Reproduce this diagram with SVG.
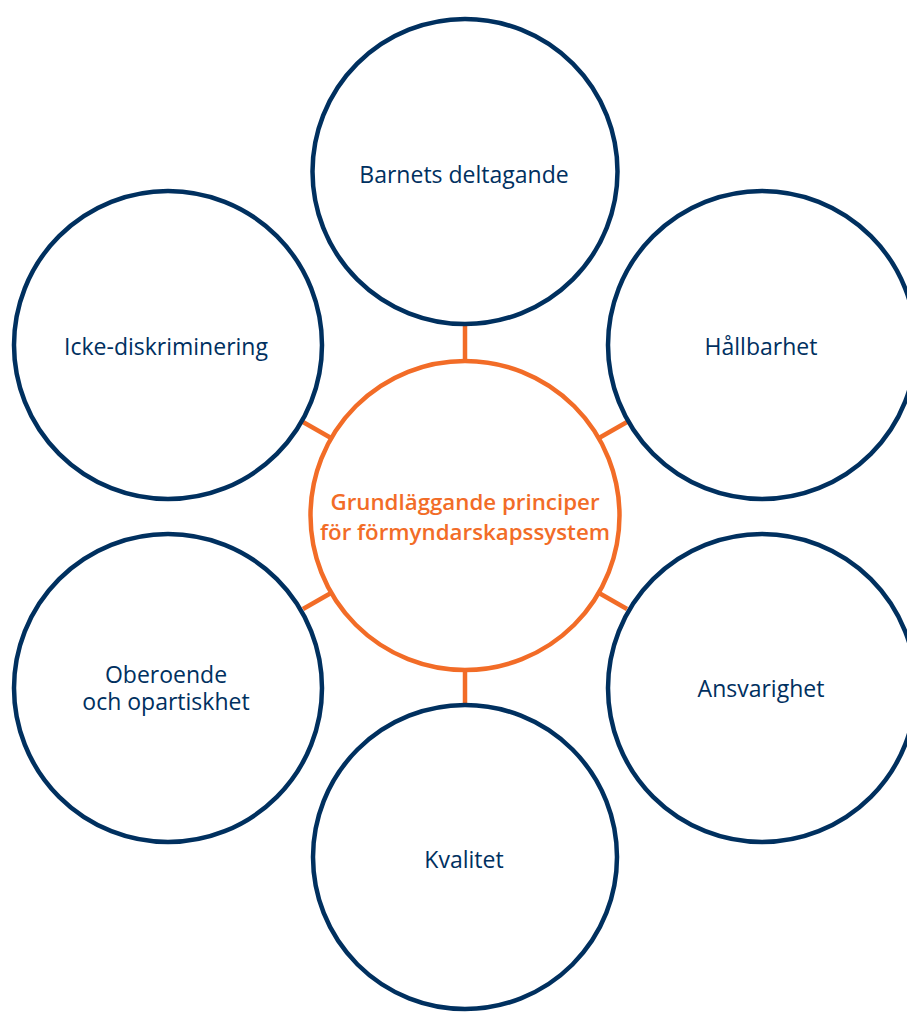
<svg xmlns="http://www.w3.org/2000/svg" width="907" height="1012" viewBox="0 0 907 1012">
<style>
.node circle{fill:#fff;stroke:#00305f;stroke-width:4.5}
.node text{font-family:"Open Sans","Noto Sans",sans-serif;font-size:23px;fill:#00305f;text-anchor:middle}
#center circle{fill:#fff;stroke:#f26c27;stroke-width:4.5}
#center text{font-family:"Open Sans","Noto Sans",sans-serif;font-size:22.3px;font-weight:600;fill:#f26c27;text-anchor:middle}
.conn line{stroke:#f26c27;stroke-width:4.5}
</style>
<rect width="907" height="1012" fill="#fff"/>
<g class="conn" id="connectors">
<line x1="465" y1="324" x2="465" y2="362"/>
<line x1="465" y1="669" x2="465" y2="706"/>
<line x1="303" y1="422" x2="331" y2="438"/>
<line x1="627" y1="422" x2="599" y2="438"/>
<line x1="303" y1="609" x2="331" y2="593"/>
<line x1="627" y1="609" x2="599" y2="593"/>
</g>
<g class="node" id="n-barnets"><circle cx="465" cy="171.5" r="152.5"/><text x="464" y="183">Barnets deltagande</text></g>
<g class="node" id="n-icke"><circle cx="168" cy="345" r="154"/><text x="166" y="355">Icke-diskriminering</text></g>
<g class="node" id="n-hallbarhet"><circle cx="762" cy="345" r="154"/><text x="761" y="355">Hållbarhet</text></g>
<g class="node" id="n-oberoende"><circle cx="168" cy="688" r="154"/><text x="166" y="683">Oberoende</text><text x="166" y="710">och opartiskhet</text></g>
<g class="node" id="n-ansvarighet"><circle cx="762" cy="688" r="154"/><text x="761" y="697">Ansvarighet</text></g>
<g class="node" id="n-kvalitet"><circle cx="465" cy="857" r="152"/><text x="464" y="868">Kvalitet</text></g>
<g id="center"><circle cx="465" cy="515.5" r="154.5"/><text x="465" y="510">Grundläggande principer</text><text x="465" y="540">för förmyndarskapssystem</text></g>
</svg>
